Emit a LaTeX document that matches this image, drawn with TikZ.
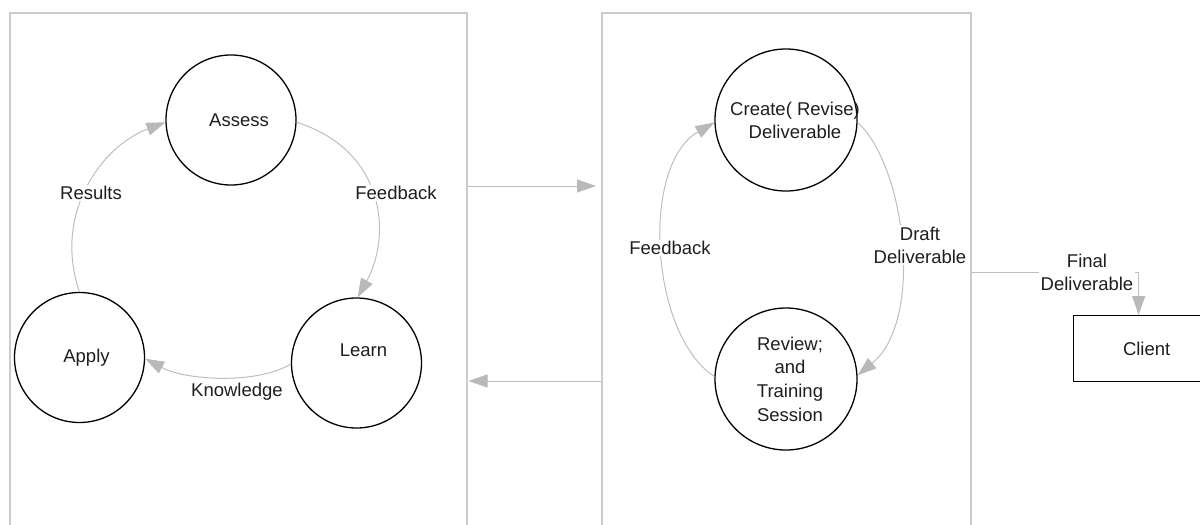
\documentclass[tikz,border=0pt]{standalone}
\usepackage{fontspec}
\setmainfont{Liberation Sans}
\usetikzlibrary{arrows.meta}
\definecolor{lgray}{RGB}{190,190,190}
\definecolor{agray}{RGB}{185,185,185}
\definecolor{pgray}{RGB}{204,204,204}
\definecolor{txt}{RGB}{30,30,30}
\begin{document}
\begin{tikzpicture}[x=1pt,y=-1pt,
  font=\fontsize{18.5}{23}\selectfont, text=txt,
  panel/.style={draw=pgray, line width=1.5pt, inner sep=0pt, anchor=north west},
  circ/.style={draw=black, line width=1.3pt, circle, minimum size=#1, inner sep=0pt},
  conn/.style={draw=lgray, line width=1pt, -{Triangle[length=19pt,width=13pt,color=agray,fill=agray]}},
  lbl/.style={fill=white, inner sep=1.5pt, align=center},
  boxnode/.style={draw=black, line width=1.3pt, inner sep=0pt, anchor=north west}
  ]
\useasboundingbox (0,0) rectangle (1200,525);
\clip (0,0) rectangle (1200,525);
% panels
\node[panel, minimum width=457pt, minimum height=560pt] (lpanel) at (9,12) {};
\node[panel, minimum width=369pt, minimum height=560pt] (rpanel) at (601,12) {};
% left cycle
\node[circ=130pt] (assess) at (231,120) {\hspace*{16pt}Assess};
\node[circ=130pt, text height=13pt, text depth=26pt] (learn) at (356.5,363) {\hspace*{14pt}Learn};
\node[circ=130pt] (apply) at (79.5,357.5) {\hspace*{14pt}Apply};
% right cycle
\node[circ=142pt, align=center] (create) at (786,120)
  {\makebox[0pt]{\hspace*{18pt}Create( Revise)}\\\makebox[0pt]{\hspace*{18pt}Deliverable}};
\node[circ=142pt, align=center, font=\fontsize{18.5}{23.6}\selectfont] (review) at (786,379)
  {\makebox[0pt]{\hspace*{8pt}Review;}\\\makebox[0pt]{\hspace*{8pt}and}\\\makebox[0pt]{\hspace*{8pt}Training}\\\makebox[0pt]{\hspace*{8pt}Session}};
% client
\node[boxnode, minimum width=130pt, minimum height=66pt] (client) at (1073,315) {\hspace*{16pt}Client};
% connectors
\draw[conn] (apply.90) .. controls (53,215) and (100,147) .. (assess.182);
\draw[conn] (assess.-2) .. controls (385,150) and (392,235) .. (learn.89);
\draw[conn] (learn.181) .. controls (255,385) and (185,380) .. (apply.359);
\draw[conn] (create.-2) .. controls (905,165) and (925,320) .. (review.3);
\draw[conn] (review.178) .. controls (650,335) and (640,165) .. (create.182);
\draw[conn, shorten >=5pt] (lpanel.east |- 0,186) -- (rpanel.west |- 0,186);
\draw[conn, shorten >=1pt] (rpanel.west |- 0,381) -- (lpanel.east |- 0,381);
\draw[conn] (rpanel.east |- 0,272) -| (client.north);
% labels
\node[lbl] (lres) at (91,193) {Results};
\node[lbl] (lfb1) at (396,193) {Feedback};
\node[lbl] (lkn) at (237,392) {Knowledge};
\node[lbl] (lfb2) at (670,248) {Feedback};
\node[lbl] (ldraft) at (920,245) {Draft\\Deliverable};
\node[lbl] (lfinal) at (1087,272) {Final\\Deliverable};
\end{tikzpicture}
\end{document}
